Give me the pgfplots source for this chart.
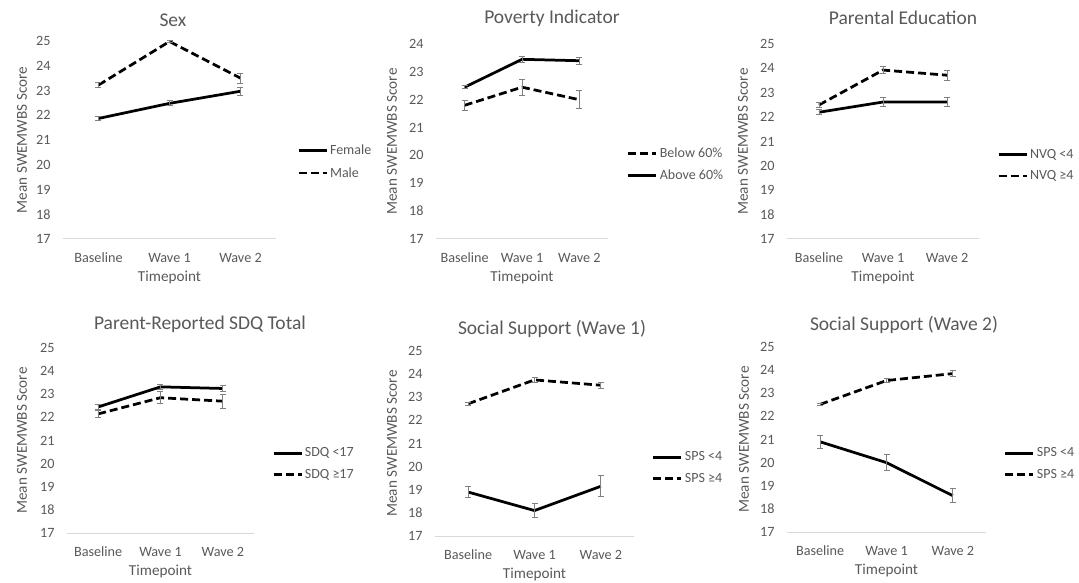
\documentclass[border=0pt]{standalone}
\usepackage{pgfplots}
\pgfplotsset{compat=1.18}
\usepackage{fontspec}
\setmainfont{Carlito}
\definecolor{textgray}{HTML}{595959}
\definecolor{axisgray}{HTML}{D9D9D9}
\definecolor{errgray}{HTML}{808080}
\pgfplotsset{
 panel/.style={
  scale only axis, clip=false,
  xmin=-0.5, xmax=2.5, xtick={0,1,2}, xticklabels={Baseline,Wave 1,Wave 2},
  axis x line*=bottom, axis y line*=left,
  y axis line style={draw=none},
  x axis line style={draw=axisgray, line width=1pt, -},
  major tick length=0pt,
  /pgf/number format/assume math mode=true,
  tick label style={font=\fontsize{14.2}{16}\selectfont, text=textgray},
  yticklabel style={xshift=-9pt},
  xticklabel style={yshift=-10.5pt},
  label style={font=\fontsize{15.2}{17}\selectfont, text=textgray},
  xlabel=Timepoint, ylabel=Mean SWEMWBS Score,
  xlabel style={at={(axis description cs:0.5,0)}, anchor=center, yshift=-38pt},
  title style={font=\fontsize{19.5}{21}\selectfont, text=textgray, anchor=center, yshift=-7pt},
  legend style={draw=none, fill=none, inner sep=0pt, anchor=west,
    font=\fontsize{14}{15}\selectfont, text=textgray, row sep=7pt},
  legend cell align=left,
  legend image code/.code={\draw[##1] (0pt,0pt) -- (28pt,0pt);},
 },
 ser/.style={black, line width=2.75pt, no marks,
  error bars/y dir=both, error bars/y explicit,
  error bars/error bar style={errgray, line width=0.9pt, solid},
  error bars/error mark options={errgray, rotate=90, mark size=3pt, line width=0.9pt, solid}},
 sol/.style={ser},
 dsh/.style={ser, dash pattern=on 8pt off 4pt},
}
\begin{document}
\begin{tikzpicture}
\useasboundingbox (0pt,0pt) rectangle (1079pt,582pt);
% Panel 1: Sex
\begin{axis}[panel, at={(63pt,343pt)}, anchor=south west, width=213pt, height=198pt,
  ymin=17, ymax=25, ytick={17,...,25},
  title=Sex, title style={at={(axis description cs:0.516,1.111)}},
  ylabel style={at={(axis description cs:-0.192,0.5)}, anchor=center},
  legend style={at={(axis description cs:1.099,0.389)}}]
\addplot[sol] coordinates {(0,21.87) +- (0,0.08) (1,22.48) +- (0,0.1) (2,22.97) +- (0,0.15)};
\addlegendentry{Female}
\addplot[dsh] coordinates {(0,23.22) +- (0,0.1) (1,24.98) +- (0,0.03) (2,23.5) +- (0,0.2)};
\addlegendentry{Male}
\end{axis}
% Panel 2: Poverty
\begin{axis}[panel, at={(436pt,343pt)}, anchor=south west, width=172pt, height=195pt,
  ymin=17, ymax=24, ytick={17,...,24},
  title=Poverty Indicator, title style={at={(axis description cs:0.674,1.138)}},
  ylabel style={at={(axis description cs:-0.256,0.5)}, anchor=center},
  legend style={at={(axis description cs:1.110,0.382)}}]
\addplot[dsh] coordinates {(0,21.8) +- (0,0.18) (1,22.45) +- (0,0.28) (2,22.0) +- (0,0.32)};
\addlegendentry{Below 60\%}
\addplot[sol] coordinates {(0,22.45) +- (0,0.06) (1,23.45) +- (0,0.1) (2,23.4) +- (0,0.12)};
\addlegendentry{Above 60\%}
\end{axis}
% Panel 3: Parental Education
\begin{axis}[panel, at={(787pt,343pt)}, anchor=south west, width=192pt, height=195pt,
  ymin=17, ymax=25, ytick={17,...,25},
  title=Parental Education, title style={at={(axis description cs:0.604,1.138)}},
  ylabel style={at={(axis description cs:-0.229,0.5)}, anchor=center},
  legend style={at={(axis description cs:1.094,0.379)}}]
\addplot[sol] coordinates {(0,22.2) +- (0,0.1) (1,22.62) +- (0,0.17) (2,22.62) +- (0,0.2)};
\addlegendentry{NVQ <4}
\addplot[dsh] coordinates {(0,22.5) +- (0,0.12) (1,23.93) +- (0,0.15) (2,23.72) +- (0,0.2)};
\addlegendentry{NVQ ≥4}
\end{axis}
% Panel 4: SDQ
\begin{axis}[panel, at={(67pt,49pt)}, anchor=south west, width=187pt, height=185pt,
  ymin=17, ymax=25, ytick={17,...,25},
  title=Parent-Reported SDQ Total, title style={at={(axis description cs:0.711,1.135)}},
  ylabel style={at={(axis description cs:-0.24,0.5)}, anchor=center},
  legend style={at={(axis description cs:1.096,0.373)}}]
\addplot[sol] coordinates {(0,22.45) +- (0,0.1) (1,23.32) +- (0,0.12) (2,23.25) +- (0,0.15)};
\addlegendentry{SDQ <17}
\addplot[dsh] coordinates {(0,22.15) +- (0,0.15) (1,22.85) +- (0,0.25) (2,22.7) +- (0,0.3)};
\addlegendentry{SDQ ≥17}
\end{axis}
% Panel 5: Social Support (Wave 1)
\begin{axis}[panel, at={(435pt,46pt)}, anchor=south west, width=199pt, height=185pt,
  ymin=17, ymax=25, ytick={17,...,25},
  title=Social Support (Wave 1), title style={at={(axis description cs:0.588,1.124)}},
  ylabel style={at={(axis description cs:-0.216,0.5)}, anchor=center},
  legend style={at={(axis description cs:1.09,0.368)}}]
\addplot[sol] coordinates {(0,18.9) +- (0,0.25) (1,18.1) +- (0,0.3) (2,19.15) +- (0,0.45)};
\addlegendentry{SPS <4}
\addplot[dsh] coordinates {(0,22.72) +- (0,0.07) (1,23.75) +- (0,0.1) (2,23.52) +- (0,0.12)};
\addlegendentry{SPS ≥4}
\end{axis}
% Panel 6: Social Support (Wave 2)
\begin{axis}[panel, at={(787pt,50pt)}, anchor=south west, width=199pt, height=185pt,
  ymin=17, ymax=25, ytick={17,...,25},
  title=Social Support (Wave 2), title style={at={(axis description cs:0.588,1.124)}},
  ylabel style={at={(axis description cs:-0.216,0.5)}, anchor=center},
  legend style={at={(axis description cs:1.09,0.368)}}]
\addplot[sol] coordinates {(0,20.9) +- (0,0.28) (1,20.0) +- (0,0.35) (2,18.57) +- (0,0.3)};
\addlegendentry{SPS <4}
\addplot[dsh] coordinates {(0,22.52) +- (0,0.06) (1,23.55) +- (0,0.08) (2,23.85) +- (0,0.12)};
\addlegendentry{SPS ≥4}
\end{axis}
\end{tikzpicture}
\end{document}
